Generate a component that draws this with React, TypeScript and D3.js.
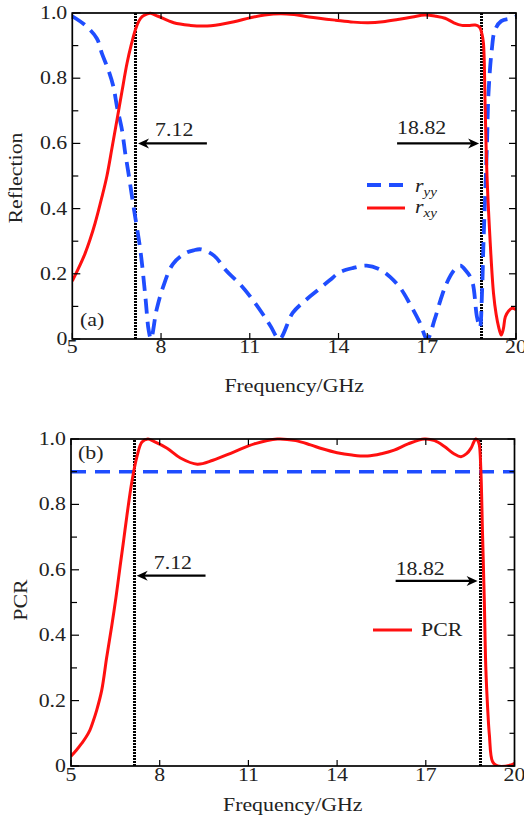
import React from "react";
import * as d3 from "d3";

// ---------- data ----------
const rxyFreq = [5.0, 5.2, 5.43, 5.6, 5.77, 6.0, 6.17, 6.34, 6.51, 6.68, 6.85, 7.0, 7.13, 7.25, 7.36, 7.5, 7.64, 7.9, 8.43, 9.0, 9.45, 10.0, 10.47, 11.0, 11.5, 12.05, 12.5, 13.0, 13.9, 14.5, 15.0, 15.5, 16.0, 16.5, 16.92, 17.3, 17.6, 17.9, 18.17, 18.4, 18.62, 18.72, 18.79, 18.85, 18.9, 18.96, 19.02, 19.13, 19.24, 19.33, 19.41, 19.5, 19.57, 19.64, 19.75, 19.87, 20.0];
const rxyVal = [0.178, 0.215, 0.262, 0.305, 0.355, 0.435, 0.5, 0.585, 0.672, 0.76, 0.846, 0.905, 0.948, 0.975, 0.989, 0.996, 0.999, 0.99, 0.97, 0.962, 0.96, 0.965, 0.973, 0.985, 0.994, 0.998, 0.995, 0.988, 0.978, 0.972, 0.97, 0.973, 0.98, 0.988, 0.994, 0.99, 0.984, 0.97, 0.962, 0.962, 0.963, 0.96, 0.953, 0.935, 0.907, 0.7, 0.5, 0.293, 0.14, 0.075, 0.038, 0.012, 0.03, 0.068, 0.086, 0.094, 0.09];

const ryyFreq = [5.0, 5.43, 5.83, 6.0, 6.22, 6.39, 6.51, 6.68, 6.79, 6.9, 7.07, 7.3, 7.47, 7.58, 7.66, 7.85, 8.07, 8.4, 8.8, 9.1, 9.35, 9.8, 10.2, 10.7, 11.1, 11.45, 11.7, 12.0, 12.45, 12.9, 13.3, 13.7, 14.05, 14.5, 14.95, 15.4, 15.75, 16.1, 16.4, 16.75, 17.0, 17.25, 17.45, 17.65, 17.9, 18.12, 18.3, 18.51, 18.68, 18.78, 18.85, 18.9, 18.96, 19.02, 19.07, 19.18, 19.29, 19.5, 19.85, 20.0];
const ryyVal = [0.99, 0.963, 0.922, 0.876, 0.825, 0.774, 0.713, 0.641, 0.57, 0.508, 0.406, 0.273, 0.13, 0.028, 0.0, 0.09, 0.16, 0.23, 0.262, 0.272, 0.275, 0.255, 0.21, 0.165, 0.12, 0.075, 0.04, 0.0, 0.08, 0.12, 0.15, 0.18, 0.205, 0.218, 0.225, 0.213, 0.19, 0.155, 0.11, 0.05, 0.0, 0.06, 0.12, 0.17, 0.21, 0.225, 0.21, 0.18, 0.068, 0.035, 0.14, 0.294, 0.447, 0.6, 0.754, 0.886, 0.948, 0.975, 0.984, 0.989];

const pcrFreq = [5.0, 5.18, 5.36, 5.5, 5.64, 5.75, 5.87, 6.04, 6.21, 6.38, 6.52, 6.66, 6.78, 6.89, 7.06, 7.23, 7.4, 7.6, 7.8, 8.25, 8.7, 9.27, 9.8, 10.5, 11.2, 11.98, 12.6, 13.1, 13.5, 14.0, 14.5, 15.03, 15.5, 15.93, 16.4, 16.95, 17.3, 17.63, 17.95, 18.19, 18.38, 18.53, 18.62, 18.69, 18.76, 18.81, 18.86, 18.92, 18.98, 19.03, 19.09, 19.15, 19.26, 19.43, 19.88, 20.0];
const pcrVal = [0.03, 0.048, 0.069, 0.087, 0.11, 0.137, 0.171, 0.232, 0.334, 0.43, 0.515, 0.61, 0.69, 0.765, 0.87, 0.946, 0.991, 1.0, 0.993, 0.972, 0.942, 0.923, 0.935, 0.96, 0.985, 1.0, 0.995, 0.982, 0.97, 0.958, 0.951, 0.948, 0.955, 0.966, 0.985, 1.0, 0.995, 0.977, 0.955, 0.946, 0.955, 0.972, 0.99, 1.0, 0.995, 0.982, 0.91, 0.706, 0.502, 0.3, 0.18, 0.095, 0.013, 0.0, 0.003, 0.008];

const pcrThreshold = 0.9;
const bandEdges = [7.12, 18.82];
const bandLabels = ["7.12", "18.82"];

const xTicks = [5, 8, 11, 14, 17, 20];
const yMajor = [0, 0.2, 0.4, 0.6, 0.8, 1.0];
const yMajorLabels = ["0", "0.2", "0.4", "0.6", "0.8", "1.0"];
const yMinor = [0.1, 0.3, 0.5, 0.7, 0.9];

const RED = "#ff1010";
const BLUE = "#1f4dff";
const FONT = "'Liberation Serif', 'DejaVu Serif', serif";
const FS = 19;
const SX = 1.15;

function T(props: {
  x: number; y: number; anchor?: string; rotate?: number; size?: number; children: React.ReactNode;
}) {
  const rot = props.rotate ? ` rotate(${props.rotate})` : "";
  return (
    <text
      transform={`translate(${props.x},${props.y})${rot} scale(${SX},1)`}
      textAnchor={props.anchor || "start"}
      fontFamily={FONT}
      fontSize={props.size || FS}
      fill="#222"
    >
      {props.children}
    </text>
  );
}

type Series = { freq: number[]; val: number[]; color: string; dash?: string; width: number };

function Panel(props: {
  id: string;
  x0: number; x1: number; yTop: number; yBot: number;
  series: Series[];
  yTitle: string; yTitleX: number; yTitleY: number;
  xTitleY: number; xTickY: number;
  arrowY: [number, number];
  labelDy: [number, number];
  hline?: number;
  extras: React.ReactNode;
}) {
  const { x0, x1, yTop, yBot } = props;
  const x = d3.scaleLinear().domain([5, 20]).range([x0, x1]);
  const y = d3.scaleLinear().domain([0, 1]).range([yBot, yTop]);
  const line = d3
    .line<[number, number]>()
    .x((d) => x(d[0]))
    .y((d) => y(d[1]))
    .curve(d3.curveCatmullRom.alpha(0.5));
  const clipId = "clip-" + props.id;

  const arrowHead = (tipX: number, tipY: number, dir: number) => {
    const L = 11, W = 5;
    return `M${tipX},${tipY} L${tipX - dir * L},${tipY - W} L${tipX - dir * L * 0.7},${tipY} L${tipX - dir * L},${tipY + W} Z`;
  };

  const leftTip = x(bandEdges[0]) + 3;
  const leftTail = x(9.55);
  const rightTip = x(bandEdges[1]) - 2;
  const rightTail = x(15.98);
  const ayL = y(props.arrowY[0]);
  const ayR = y(props.arrowY[1]);

  return (
    <g>
      <defs>
        <clipPath id={clipId}>
          <rect x={x0} y={yTop - 2} width={x1 - x0} height={yBot - yTop + 2} />
        </clipPath>
      </defs>
      {bandEdges.map((f, i) => (
        <line key={i} x1={Math.round(x(f)) + 0.5} x2={Math.round(x(f)) + 0.5} y1={y(0)} y2={y(1)} stroke="#000" strokeWidth={3} strokeDasharray="2,1" />
      ))}
      {props.hline !== undefined && (
        <line x1={x0} x2={x1} y1={y(props.hline)} y2={y(props.hline)} stroke={BLUE} strokeWidth={3.5} strokeDasharray="15,9" />
      )}
      <g clipPath={`url(#${clipId})`}>
        {props.series.map((s, i) => (
          <path
            key={i}
            d={line(s.freq.map((f, k) => [f, s.val[k]] as [number, number])) || ""}
            fill="none"
            stroke={s.color}
            strokeWidth={s.width}
            strokeDasharray={s.dash}
            strokeLinejoin="round"
          />
        ))}
      </g>
      <line x1={leftTail} x2={leftTip + 6} y1={ayL} y2={ayL} stroke="#000" strokeWidth={2.2} />
      <path d={arrowHead(leftTip, ayL, -1)} fill="#000" />
      <T x={x(7.8)} y={ayL + props.labelDy[0]}>{bandLabels[0]}</T>
      <line x1={rightTail} x2={rightTip - 6} y1={ayR} y2={ayR} stroke="#000" strokeWidth={2.2} />
      <path d={arrowHead(rightTip, ayR, 1)} fill="#000" />
      <T x={x(15.98)} y={ayR + props.labelDy[1]}>{bandLabels[1]}</T>

      <rect x={x0} y={yTop} width={x1 - x0} height={yBot - yTop} fill="none" stroke="#000" strokeWidth={1.7} />
      {xTicks.map((t) => (
        <g key={"xt" + t}>
          <line x1={x(t)} x2={x(t)} y1={yBot} y2={yBot - 6} stroke="#000" strokeWidth={1.2} />
          <line x1={x(t)} x2={x(t)} y1={yTop} y2={yTop + 6} stroke="#000" strokeWidth={1.2} />
          <T x={x(t)} y={props.xTickY} anchor="middle">{t}</T>
        </g>
      ))}
      {yMajor.map((t, i) => (
        <g key={"ym" + t}>
          <line x1={x0} x2={x0 + 8} y1={y(t)} y2={y(t)} stroke="#000" strokeWidth={1.2} />
          <line x1={x1} x2={x1 - 7} y1={y(t)} y2={y(t)} stroke="#000" strokeWidth={1.2} />
          <T x={x0 - 5} y={y(t) + 6} anchor="end">{yMajorLabels[i]}</T>
        </g>
      ))}
      {yMinor.map((t) => (
        <g key={"yn" + t}>
          <line x1={x0} x2={x0 + 6} y1={y(t)} y2={y(t)} stroke="#000" strokeWidth={1.2} />
          <line x1={x1} x2={x1 - 5} y1={y(t)} y2={y(t)} stroke="#000" strokeWidth={1.2} />
        </g>
      ))}
      <T x={(x0 + x1) / 2} y={props.xTitleY} anchor="middle">Frequency/GHz</T>
      <T x={props.yTitleX} y={props.yTitleY} anchor="middle" rotate={-90}>{props.yTitle}</T>
      {props.extras}
    </g>
  );
}

export default function App() {
  return (
    <svg width={524} height={820} style={{ position: "absolute", left: 0, top: 0, background: "#fff" }}>
      <Panel
        id="a"
        x0={72.3} x1={516} yTop={13} yBot={339}
        series={[
          { freq: ryyFreq, val: ryyVal, color: BLUE, dash: "15,8", width: 3.8 },
          { freq: rxyFreq, val: rxyVal, color: RED, width: 3 },
        ]}
        yTitle="Reflection" yTitleX={22} yTitleY={178}
        xTitleY={392} xTickY={353}
        arrowY={[0.6, 0.6]}
        labelDy={[-7, -9]}
        extras={
          <g>
            <line x1={367} x2={405} y1={185} y2={185} stroke={BLUE} strokeWidth={3.8} strokeDasharray="14,8" />
            <T x={415} y={192}>
              <tspan fontStyle="italic">r</tspan>
              <tspan fontStyle="italic" fontSize={13} dy={4}>yy</tspan>
            </T>
            <line x1={367} x2={405} y1={208} y2={208} stroke={RED} strokeWidth={3} />
            <T x={415} y={213}>
              <tspan fontStyle="italic">r</tspan>
              <tspan fontStyle="italic" fontSize={13} dy={4}>xy</tspan>
            </T>
            <T x={80} y={326}>(a)</T>
          </g>
        }
      />
      <Panel
        id="b"
        x0={71} x1={514.5} yTop={439} yBot={766}
        series={[{ freq: pcrFreq, val: pcrVal, color: RED, width: 3 }]}
        hline={pcrThreshold}
        yTitle="PCR" yTitleX={27} yTitleY={600}
        xTitleY={811} xTickY={781}
        arrowY={[0.582, 0.566]}
        labelDy={[-7, -6]}
        extras={
          <g>
            <line x1={373} x2={412} y1={630} y2={630} stroke={RED} strokeWidth={3} />
            <T x={421} y={636}>PCR</T>
            <T x={78} y={459}>(b)</T>
          </g>
        }
      />
    </svg>
  );
}
